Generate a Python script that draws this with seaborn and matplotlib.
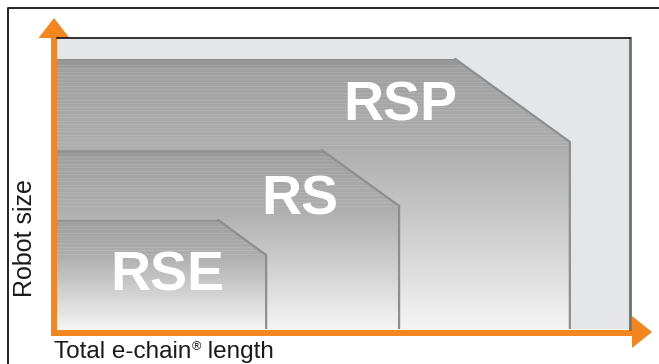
import numpy as np
import matplotlib
matplotlib.use("Agg")
import matplotlib.pyplot as plt
import seaborn as sns
import pandas as pd
from matplotlib.patches import Polygon

# Data (axis units 0-100)
models = ["RSP", "RS", "RSE"]
chain_length = [89.5, 59.7, 36.5]   # right edge of each range
robot_size = [92.8, 61.5, 37.5]     # top of each range
bevel_x = [69.5, 46.2, 28.1]        # where the top edge starts to slope
bevel_y = [64.3, 42.3, 25.4]        # where the slope meets the right edge

sns.set_theme(style="white")
plt.rcParams["font.family"] = ["Liberation Sans", "DejaVu Sans"]

W, H = 659, 364
orange = "#f3861f"
text_col = "#1a1a1a"
fig = plt.figure(figsize=(W / 100, H / 100), dpi=100)

# Background axes in pixel units for the frame, arrows and axis labels
bg = fig.add_axes([0, 0, 1, 1])
bg.set_xlim(0, W)
bg.set_ylim(H, 0)
bg.axis("off")
bg.plot([8, 8, W + 5], [H + 5, 8, 8], color="#222222", lw=1.4, solid_capstyle="butt")
bg.fill([51, 57, 57, 51], [38, 38, 336, 336], color=orange, lw=0)
bg.fill([38.5, 69.5, 54], [38, 38, 18], color=orange, lw=0)
bg.fill([51, 632, 632, 51], [329.5, 329.5, 336, 336], color=orange, lw=0)
bg.fill([632, 632, 652], [316, 348, 332], color=orange, lw=0)

bg.text(25, 238, "Robot size", rotation=90, ha="center", va="center",
        fontsize=18, color=text_col)

# x label with a small raised registered mark
r = fig.canvas.get_renderer()
inv = bg.transData.inverted()
t1 = bg.text(54, 358, "Total e-chain", ha="left", va="baseline", fontsize=17.5, color=text_col)
x_end = inv.transform((t1.get_window_extent(r).x1, 0))[0]
t2 = bg.text(x_end + 0.5, 350, "®", ha="left", va="baseline", fontsize=9, color=text_col)
x_end = inv.transform((t2.get_window_extent(r).x1, 0))[0]
bg.text(x_end, 358, " length", ha="left", va="baseline", fontsize=17.5, color=text_col)

# Main panel
ax = fig.add_axes([57 / W, (H - 329) / H, 573 / W, 291 / H])
ax.set_facecolor("#e5e6e7")

label_pos = [(59.9, 76.6), (42.4, 44.0), (19.2, 18.0)]


def brushed_gradient(n_rows):
    # dark brushed band at the top, fading to near white at the bottom
    f = np.linspace(0, 1, n_rows)
    level = np.interp(f, [0, 0.04, 0.33, 1], [0.56, 0.63, 0.68, 0.955])
    rows = np.arange(n_rows)
    streak = ((rows * 5) % 7 < 2) & (f < 0.33)
    level = level + 0.035 * streak
    return level.reshape(-1, 1)


for i, (m, x1, y1, xb, yb) in enumerate(zip(models, chain_length, robot_size, bevel_x, bevel_y)):
    z = 2 + 3 * i
    verts = [(0, 0), (0, y1), (xb, y1), (x1, yb), (x1, 0)]
    poly = Polygon(verts, closed=True, facecolor="none", edgecolor="none")
    ax.add_patch(poly)
    n_rows = int(round(y1 / 100 * 291))
    im = ax.imshow(brushed_gradient(n_rows), cmap="gray", vmin=0, vmax=1,
                   extent=[0, x1, 0, y1], aspect="auto", origin="upper",
                   zorder=z, interpolation="nearest")
    im.set_clip_path(poly)
    edge = pd.DataFrame({"x": [xb, x1, x1], "y": [y1, yb, 0]})
    sns.lineplot(data=edge, x="x", y="y", sort=False, estimator=None,
                 color="#8d8e90", lw=1.6, ax=ax)
    ax.lines[-1].set_zorder(z + 1)
    ax.text(label_pos[i][0], label_pos[i][1], m, ha="center", va="center",
            fontsize=40, fontweight="bold", color="white", zorder=z + 2)

ax.set_xlim(0, 100)
ax.set_ylim(0, 100)
ax.set_xticks([])
ax.set_yticks([])
ax.set_xlabel("")
ax.set_ylabel("")
for side in ["left", "bottom"]:
    ax.spines[side].set_visible(False)
ax.spines["top"].set_color("#111111")
ax.spines["top"].set_linewidth(1.2)
ax.spines["right"].set_color("#6e6f71")
ax.spines["right"].set_linewidth(2)

fig.savefig("out.png", dpi=100)
